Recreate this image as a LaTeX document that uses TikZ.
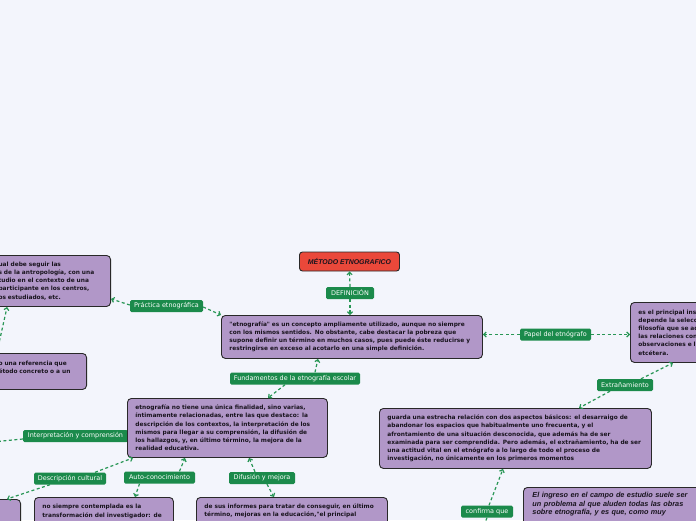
\documentclass[tikz,border=0pt]{standalone}
\usepackage{fontspec}
\setmainfont{Liberation Sans}
\newfontfamily\dvs{DejaVu Sans}
\usetikzlibrary{arrows.meta}
\definecolor{bgcol}{RGB}{243,245,252}
\definecolor{boxfill}{RGB}{177,151,200}
\definecolor{boxborder}{RGB}{40,40,40}
\definecolor{labgreen}{RGB}{27,138,75}
\definecolor{conngreen}{RGB}{40,150,85}
\definecolor{titlered}{RGB}{234,72,58}
\definecolor{txt}{RGB}{25,20,30}
\newcommand{\boxfont}{\dvs\fontsize{5.85}{8.2}\selectfont\bfseries}
\newcommand{\labfont}{\dvs\fontsize{6.45}{7}\selectfont}
\tikzset{
  box/.style={draw=boxborder, fill=boxfill, rounded corners=4pt, line width=0.9pt,
    align=left, inner xsep=8pt, inner ysep=3pt, font=\boxfont, text=txt, anchor=north west},
  lab/.style={fill=labgreen, text=white, rounded corners=1.5pt, font=\labfont,
    inner sep=0pt, minimum height=12pt},
  ttl/.style={draw=boxborder, fill=titlered, rounded corners=3pt, line width=0.9pt,
    font=\fontsize{6.9}{8}\selectfont\bfseries\itshape, text=txt, minimum width=100pt, minimum height=19pt},
  conn/.style={draw=conngreen, line width=1.2pt, dash pattern=on 3pt off 2.5pt,
    -{Straight Barb[length=2.5pt,width=5pt]}},
  connplain/.style={draw=conngreen, line width=1.2pt, dash pattern=on 3pt off 2.5pt}
}
\begin{document}
\begin{tikzpicture}[x=1pt,y=-1pt]
\fill[bgcol] (0,0) rectangle (696,520);
\useasboundingbox (0,0) rectangle (696,520);

% title and definition
\node[ttl] (t) at (349.5,261.5) {MÉTODO ETNOGRAFICO};
\node[lab, minimum width=48pt] (def) at (350,293) {DEFINICIÓN};
\node[box, text width=245pt, minimum height=43pt] (db) at (221,315)
 {"etnografía" es un concepto ampliamente utilizado, aunque no siempre\\
  con los mismos sentidos. No obstante, cabe destacar la pobreza que\\
  supone definir un término en muchos casos, pues puede éste reducirse y\\
  restringirse en exceso al acotarlo en una simple definición.};

% left side boxes
\node[box, anchor=north east, text width=104pt, minimum height=51pt] (tl) at (111,255)
 {ual debe seguir las\\
  s de la antropología, con una\\
  tudio en el contexto de una\\
  participante en los centros,\\
  os estudiados, etc.};
\node[box, anchor=north east, text width=80pt, minimum height=36pt] (lb) at (87,353)
 {o una referencia que\\étodo concreto o a un\\\mbox{}};

% right box
\node[box, text width=100pt, minimum height=60pt] (rb) at (630,302)
 {es el principal ins\\
  depende la selecc\\
  filosofía que se ad\\
  las relaciones con\\
  observaciones e l\\
  etcétera.};

% labels
\node[lab, minimum width=73pt] (prac) at (166.5,306) {Práctica etnográfica};
\node[lab, minimum width=71pt] (papel) at (555.5,334.5) {Papel del etnógrafo};
\node[lab, minimum width=56pt] (extr) at (625,385) {Extrañamiento};
\node[lab, minimum width=130pt] (fund) at (295,378.5) {Fundamentos de la etnografía escolar};
\node[lab, minimum width=105pt] (interp) at (75.5,436) {Interpretación y comprensión};
\node[lab, minimum width=72pt] (desc) at (70,478.5) {Descripción cultural};
\node[lab, minimum width=71pt] (auto) at (159.5,477.5) {Auto-conocimiento};
\node[lab, minimum width=66pt] (difu) at (262,478) {Difusión y mejora};
\node[lab, minimum width=52pt] (conf) at (487,511.5) {confirma que};

% central boxes
\node[box, text width=184pt, minimum height=59pt] (eb) at (127,398)
 {etnografía no tiene una única finalidad, sino varias,\\
  íntimamente relacionadas, entre las que destaco: la\\
  descripción de los contextos, la interpretación de los\\
  mismos para llegar a su comprensión, la difusión de\\
  los hallazgos, y, en último término, la mejora de la\\
  realidad educativa.};
\node[box, text width=256pt, minimum height=60pt] (gb) at (379,408)
 {guarda una estrecha relación con dos aspectos básicos: el desarraigo de\\
  abandonar los espacios que habitualmente uno frecuenta, y el\\
  afrontamiento de una situación desconocida, que además ha de ser\\
  examinada para ser comprendida. Pero además, el extrañamiento, ha de ser\\
  una actitud vital en el etnógrafo a lo largo de todo el proceso de\\
  investigación, no únicamente en los primeros momentos};

% bottom boxes
\node[box, anchor=north east, text width=60pt, inner ysep=7pt] (blb) at (21,499) {\mbox{}\\\mbox{}\\\mbox{}};
\node[box, text width=123pt, inner ysep=7pt] (ns) at (34,497)
 {no siempre contemplada es la\\
  transformación del investigador: de\\\mbox{}\\\mbox{}};
\node[box, text width=175pt, inner ysep=6pt] (ds) at (196,497)
 {de sus informes para tratar de conseguir, en último\\
  término, mejoras en la educación,"el principal\\\mbox{}\\\mbox{}};
\node[box, text width=180pt, inner xsep=9pt, inner ysep=5pt,
      font=\fontsize{7.3}{8.3}\selectfont\bfseries\itshape] (ei) at (523,487)
 {El ingreso en el campo de estudio suele ser\\
  un problema al que aluden todas las obras\\
  sobre etnografía, y es que, como muy\\\mbox{}};

% off-canvas ends
\coordinate (offA) at (-3,352);
\coordinate (offB) at (-8,442);
\coordinate (offC) at (483,528);

% connectors
\draw[conn] (def.north) -- (t.south);
\draw[conn] (def.south) -- (def.south |- db.north);
\draw[conn] ([yshift=1pt]prac.west) -- ([yshift=8pt]tl.south east);
\draw[conn] ([yshift=-1pt]prac.east) -- (db.north west);
\draw[conn] (papel.west) -- (db.east |- papel.west);
\draw[conn] (papel.east) -- (rb.west |- papel.east);
\draw[conn] ([xshift=16pt]extr.north) -- ([xshift=43pt]rb.south west);
\draw[conn] ([xshift=-15pt]extr.south) -- ([xshift=200pt]gb.north west);
\draw[conn] ([xshift=20pt]fund.north) -- ([xshift=97pt]db.south west);
\draw[conn] ([xshift=-10pt]fund.south) -- ([xshift=141pt]eb.north west);
\draw[conn] (offA) -- ([xshift=17pt]tl.south west);
\draw[conn] ([yshift=-3pt]interp.west) -- (offB);
\draw[conn] ([xshift=25pt]desc.north) -- ([xshift=6pt]eb.south west);
\draw[conn] ([xshift=-20pt]desc.south) -- ([xshift=-14pt]blb.north east);
\draw[conn] ([xshift=20pt]auto.north) -- ([xshift=58pt]eb.south west);
\draw[conn] ([xshift=-20pt]auto.south) -- ([xshift=101pt]ns.north west);
\draw[conn] ([xshift=-7pt]difu.north) -- ([xshift=122pt]eb.south west);
\draw[conn] ([xshift=5pt]difu.south) -- ([xshift=78pt]ds.north west);
\draw[conn] ([xshift=2pt]conf.north) -- ([xshift=124pt]gb.south west);
\draw[connplain] (conf.south) -- (offC);
\end{tikzpicture}
\end{document}
